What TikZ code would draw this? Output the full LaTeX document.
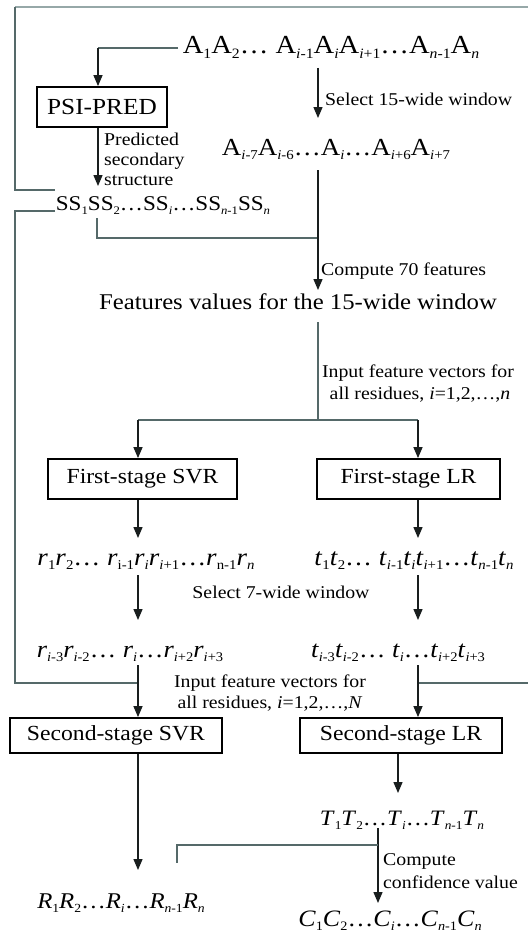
\documentclass[tikz,border=0pt]{standalone}
\usepackage{fontspec}
\setmainfont[FakeStretch=1.1]{Liberation Serif}
\usetikzlibrary{arrows.meta,calc}
\definecolor{lineg}{RGB}{85,105,105}
\definecolor{arrc}{RGB}{25,30,30}
\definecolor{topg}{RGB}{150,168,168}
\newcommand\sbs[1]{\raisebox{-0.2em}{\scalebox{0.55}{#1}}}
\begin{document}
\begin{tikzpicture}[x=1pt,y=-1pt,
  arr/.style={draw=arrc, line width=1.3pt, -{Triangle[width=9pt,length=11pt]}},
  ln/.style={draw=lineg, line width=1.2pt},
  topl/.style={draw=topg, line width=2pt},
  boxn/.style={draw=black, line width=1.8pt, inner sep=0pt, font=\fontsize{21.5}{21.5}\selectfont},
  seq/.style={inner sep=0pt, anchor=base},
  lab/.style={inner sep=0pt, anchor=base west, font=\fontsize{18}{18}\selectfont},
  labc/.style={inner sep=0pt, anchor=base, font=\fontsize{18}{18}\selectfont}
]
\useasboundingbox (0,0) rectangle (528,934);

% sequences
\node[seq, font=\fontsize{26}{26}\selectfont] (aseq) at (331,53) {A\sbs{1}A\sbs{2}… A\sbs{\textit{i}-1}A\sbs{\textit{i}}A\sbs{\textit{i}+1}…A\sbs{\textit{n}-1}A\sbs{\textit{n}}};
\node[seq, font=\fontsize{24.5}{24.5}\selectfont] (wseq) at (336,155) {A\sbs{\textit{i}-7}A\sbs{\textit{i}-6}…A\sbs{\textit{i}}…A\sbs{\textit{i}+6}A\sbs{\textit{i}+7}};
\node[seq, font=\fontsize{21}{21}\selectfont] (ss) at (163,210) {SS\sbs{1}SS\sbs{2}…SS\sbs{\textit{i}}…SS\sbs{\textit{n}-1}SS\sbs{\textit{n}}};
\node[seq, font=\fontsize{22.5}{22.5}\selectfont] (feat) at (298,309) {Features values for the 15-wide window};
\node[seq, font=\fontsize{24.5}{24.5}\selectfont] (rseq) at (146,565) {\textit{r}\sbs{1}\textit{r}\sbs{2}… \textit{r}\sbs{i-1}\textit{r}\sbs{\textit{i}}\textit{r}\sbs{\textit{i}+1}…\textit{r}\sbs{n-1}\textit{r}\sbs{\textit{n}}};
\node[seq, font=\fontsize{24.5}{24.5}\selectfont] (tseq) at (414,565) {\textit{t}\sbs{1}\textit{t}\sbs{2}… \textit{t}\sbs{\textit{i}-1}\textit{t}\sbs{\textit{i}}\textit{t}\sbs{\textit{i}+1}…\textit{t}\sbs{\textit{n}-1}\textit{t}\sbs{\textit{n}}};
\node[seq, font=\fontsize{24}{24}\selectfont] (rwin) at (130,657) {\textit{r}\sbs{\textit{i}-3}\textit{r}\sbs{\textit{i}-2}… \textit{r}\sbs{\textit{i}}…\textit{r}\sbs{\textit{i}+2}\textit{r}\sbs{\textit{i}+3}};
\node[seq, font=\fontsize{24}{24}\selectfont] (twin) at (398,657) {\textit{t}\sbs{\textit{i}-3}\textit{t}\sbs{\textit{i}-2}… \textit{t}\sbs{\textit{i}}…\textit{t}\sbs{\textit{i}+2}\textit{t}\sbs{\textit{i}+3}};
\node[seq, font=\fontsize{22.5}{22.5}\selectfont] (Rseq) at (121,908) {\textit{R}\sbs{1}\textit{R}\sbs{2}…\textit{R}\sbs{\textit{i}}…\textit{R}\sbs{\textit{n}-1}\textit{R}\sbs{\textit{n}}};
\node[seq, font=\fontsize{22}{22}\selectfont] (Tseq) at (402,825) {\textit{T}\sbs{1}\textit{T}\sbs{2}…\textit{T}\sbs{\textit{i}}…\textit{T}\sbs{\textit{n}-1}\textit{T}\sbs{\textit{n}}};
\node[seq, font=\fontsize{23.5}{23.5}\selectfont] (Cseq) at (390,926) {\textit{C}\sbs{1}\textit{C}\sbs{2}…\textit{C}\sbs{\textit{i}}…\textit{C}\sbs{\textit{n}-1}\textit{C}\sbs{\textit{n}}};

% boxes
\node[boxn, minimum width=130pt, minimum height=40pt, font=\fontsize{23}{23}\selectfont] (psi) at (102,107) {PSI-PRED};
\node[boxn, minimum width=189pt, minimum height=40pt] (fsvr) at (142.5,479) {First-stage SVR};
\node[boxn, minimum width=183pt, minimum height=40pt] (flr) at (408.5,479) {First-stage LR};
\node[boxn, minimum width=212pt, minimum height=35pt] (ssvr) at (116,735.5) {Second-stage SVR};
\node[boxn, minimum width=202pt, minimum height=35pt] (slr) at (401,735.5) {Second-stage LR};

% labels
\node[lab] (pl1) at (104,145) {Predicted};
\node[lab] (pl2) at (104,165) {secondary};
\node[lab] (pl3) at (104,185) {structure};
\node[lab] (sel15) at (325,105) {Select 15-wide window};
\node[lab] (comp70) at (321,275) {Compute 70 features};
\node[labc] (in1a) at (418,377) {Input feature vectors for};
\node[labc] (in1b) at (420,399) {all residues, \textit{i}=1,2,…,\textit{n}};
\node[labc] (sel7) at (281,598) {Select 7-wide window};
\node[labc] (in2a) at (270,687) {Input feature vectors for};
\node[labc] (in2b) at (270,708) {all residues, \textit{i}=1,2,…,\textit{N}};
\node[lab] (cc1) at (383,865) {Compute};
\node[lab] (cc2) at (383,888) {confidence value};

% coordinates
\coordinate (a1) at (178,48);
\coordinate (a2) at (98,48);
\coordinate (ssin) at (98,186);
\coordinate (s1) at (97,218);
\coordinate (s2) at (97,238);
\coordinate (m1) at (318,68);
\coordinate (m2) at (318,118);
\coordinate (m3) at (318,170);
\coordinate (m4) at (318,238);
\coordinate (m5) at (318,290);
\coordinate (m6) at (318,322);
\coordinate (m7) at (318,420);
\coordinate (bL) at (138,420);
\coordinate (bR) at (418,420);
\coordinate (tl) at (15,7);
\coordinate (tr) at (528,7);
\coordinate (l1) at (15,190);
\coordinate (l2) at (55,190);
\coordinate (l3) at (55,211);
\coordinate (l4) at (15,211);
\coordinate (l5) at (15,683);
\coordinate (fbL) at (138,683);
\coordinate (fbR) at (418,683);
\coordinate (rr) at (528,683);
\coordinate (r1) at (138,538);
\coordinate (r2) at (138,575);
\coordinate (r3) at (138,620);
\coordinate (r4) at (138,665);
\coordinate (t1) at (418,538);
\coordinate (t2) at (418,575);
\coordinate (t3) at (418,620);
\coordinate (t4) at (418,665);
\coordinate (Rin) at (138,870);
\coordinate (Tin) at (398,793);
\coordinate (c1) at (378,828);
\coordinate (c2) at (378,845);
\coordinate (c3) at (378,903);
\coordinate (c4) at (177,845);
\coordinate (c5) at (177,863);

% feedback lines
\draw[topl] (tl) -- (tr);
\draw[ln] (tl) -- (l1) -- (l2);
\draw[ln] (l3) -- (l4) -- (l5) -- (fbL);
\draw[ln] (fbR) -- (rr);

% top part
\draw[ln] (a1) -- (a2);
\draw[arr] (a2) -- (a2 |- psi.north);
\draw[arr] (a2 |- psi.south) -- (ssin);
\draw[arr] (m1) -- (m2);
\draw[ln] (s1) -- (s2) -- (m4);
\draw[arr] (m3) -- (m5);
\draw[ln] (m6) -- (m7);
\draw[ln] (bL) -- (bR);
\draw[arr] (bL) -- (bL |- fsvr.north);
\draw[arr] (bR) -- (bR |- flr.north);

% first stage outputs
\draw[arr] (r1 |- fsvr.south) -- (r1);
\draw[arr] (t1 |- flr.south) -- (t1);
\draw[arr] (r2) -- (r3);
\draw[arr] (t2) -- (t3);
\draw[arr] (r4) -- (r4 |- ssvr.north);
\draw[arr] (t4) -- (t4 |- slr.north);

% second stage outputs
\draw[arr] (Rin |- ssvr.south) -- (Rin);
\draw[arr] (Tin |- slr.south) -- (Tin);
\draw[arr] (c1) -- (c3);
\draw[ln] (c2) -- (c4) -- (c5);
\end{tikzpicture}
\end{document}
